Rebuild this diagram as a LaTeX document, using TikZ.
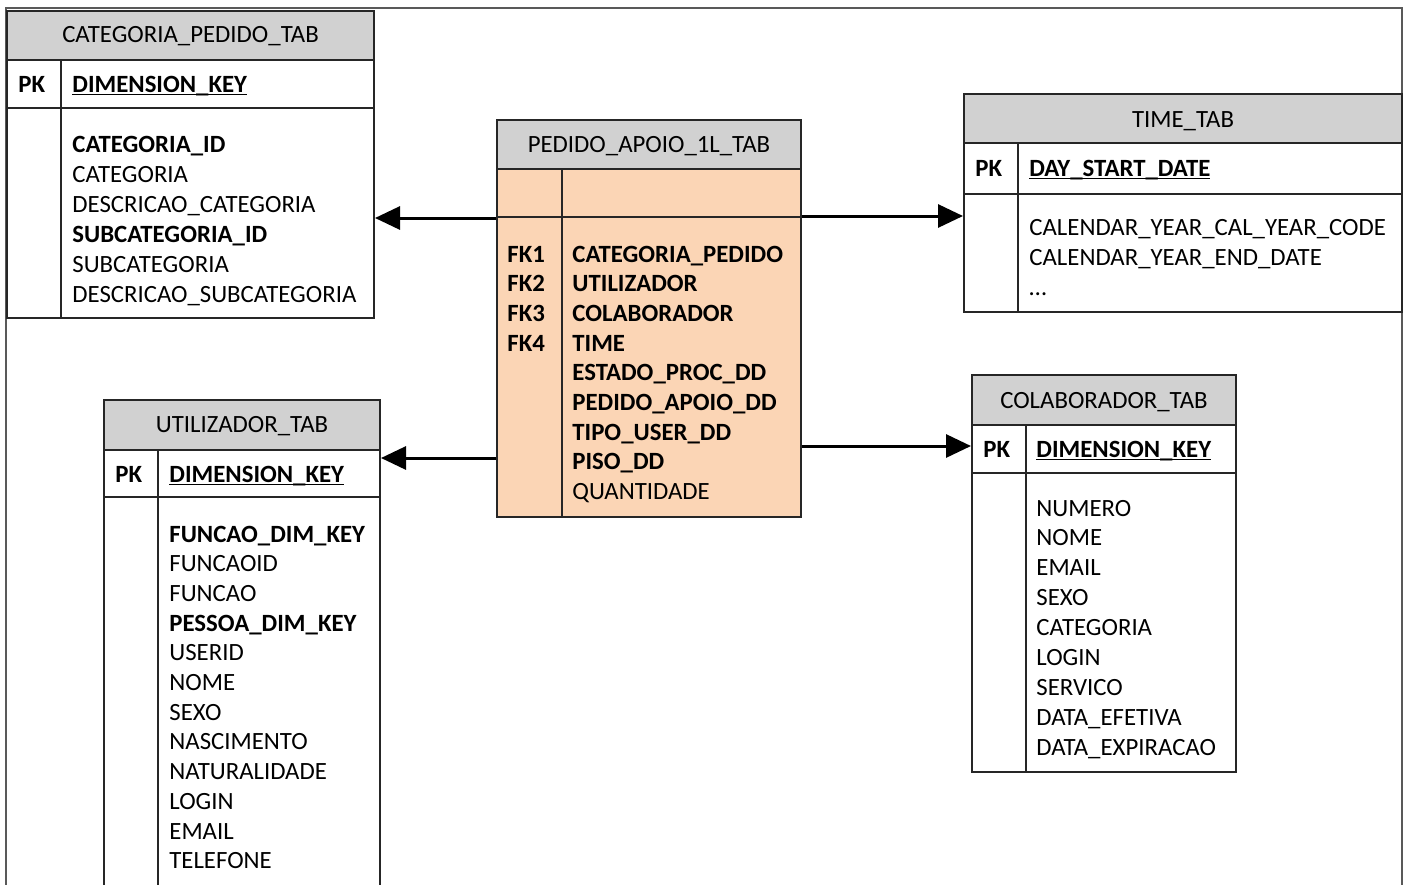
\documentclass[tikz,border=0pt]{standalone}
\usepackage{fontspec}
\setmainfont{Carlito}
\usetikzlibrary{arrows.meta,fit}

\definecolor{factfill}{HTML}{FBD5B5}
\newcommand{\keyul}[1]{\underline{\smash{#1}}}

\begin{document}
\begin{tikzpicture}[x=0.5pt,y=-0.5pt,
  tab/.style={draw=black!85, line width=1pt, inner sep=0pt},
  tabline/.style={draw=black!85, line width=1pt},
  headfill/.style={fill=black!18},
  txt/.style={anchor=base west, inner sep=0pt, font=\fontsize{12.4}{14}\selectfont},
  ttl/.style={anchor=base, inner sep=0pt, font=\fontsize{12.4}{14}\selectfont},
  fk/.style={line width=1.5pt, -{Triangle[length=12.5pt,width=11.5pt]}},
  frame/.style={draw=black!65, line width=0.6pt}]

\useasboundingbox (0,0) rectangle (1407,884);
\clip (0,0) rectangle (1407,884);

% outer frame
\draw[frame] (6,8) rectangle (1402,900);

% dimension: categoria
\fill[headfill] (7,11) rectangle (374,60);
\node[tab, fit={(7,11) (374,318)}] (cat) {};
\draw[tabline] (7,60) -- (374,60) (7,108) -- (374,108) (61,60) -- (61,318);
\node[ttl] (cat-name) at (190.5,42) {CATEGORIA\_PEDIDO\_TAB};
\node[txt] (cat-pk) at (18,92) {\textbf{PK}};
\node[txt] (cat-key) at (72,92) {\textbf{\keyul{DIMENSION\_KEY}}};
\foreach \f [count=\i from 0] in {\textbf{CATEGORIA\_ID}, CATEGORIA,
    DESCRICAO\_CATEGORIA, \textbf{SUBCATEGORIA\_ID}, SUBCATEGORIA,
    DESCRICAO\_SUBCATEGORIA}
  \node[txt] (cat-f\i) at (72,152+30*\i) {\f};

% fact table
\fill[factfill] (497,169) rectangle (801,517);
\fill[headfill] (497,120) rectangle (801,169);
\node[tab, fit={(497,120) (801,517)}] (ped) {};
\draw[tabline] (497,169) -- (801,169) (497,217) -- (801,217) (562,169) -- (562,517);
\node[ttl] (ped-name) at (649,152) {PEDIDO\_APOIO\_1L\_TAB};
\foreach \k [count=\i from 0] in {FK1, FK2, FK3, FK4}
  \node[txt] (ped-k\i) at (507,262+29.7*\i) {\textbf{\k}};
\foreach \f [count=\i from 0] in {\textbf{CATEGORIA\_PEDIDO}, \textbf{UTILIZADOR},
    \textbf{COLABORADOR}, \textbf{TIME}, \textbf{ESTADO\_PROC\_DD},
    \textbf{PEDIDO\_APOIO\_DD}, \textbf{TIPO\_USER\_DD}, \textbf{PISO\_DD}, QUANTIDADE}
  \node[txt] (ped-f\i) at (572,262+29.7*\i) {\f};

% dimension: time
\fill[headfill] (964,94) rectangle (1402,143);
\node[tab, fit={(964,94) (1402,312)}] (time) {};
\draw[tabline] (964,143) -- (1402,143) (964,194) -- (1402,194) (1018,143) -- (1018,312);
\node[ttl] (time-name) at (1183,127) {TIME\_TAB};
\node[txt] (time-pk) at (975,176) {\textbf{PK}};
\node[txt] (time-key) at (1029,176) {\textbf{\keyul{DAY\_START\_DATE}}};
\foreach \f [count=\i from 0] in {CALENDAR\_YEAR\_CAL\_YEAR\_CODE,
    CALENDAR\_YEAR\_END\_DATE, \ldots}
  \node[txt] (time-f\i) at (1029,235+30*\i) {\f};

% dimension: colaborador
\fill[headfill] (972,375) rectangle (1236,425);
\node[tab, fit={(972,375) (1236,772)}] (colab) {};
\draw[tabline] (972,425) -- (1236,425) (972,473) -- (1236,473) (1026,425) -- (1026,772);
\node[ttl] (colab-name) at (1104,408) {COLABORADOR\_TAB};
\node[txt] (colab-pk) at (983,457) {\textbf{PK}};
\node[txt] (colab-key) at (1036,457) {\textbf{\keyul{DIMENSION\_KEY}}};
\foreach \f [count=\i from 0] in {NUMERO, NOME, EMAIL, SEXO, CATEGORIA, LOGIN,
    SERVICO, DATA\_EFETIVA, DATA\_EXPIRACAO}
  \node[txt] (colab-f\i) at (1036,516+29.9*\i) {\f};

% dimension: utilizador
\fill[headfill] (104,400) rectangle (380,450);
\node[tab, fit={(104,400) (380,900)}] (user) {};
\draw[tabline] (104,450) -- (380,450) (104,497) -- (380,497) (158,450) -- (158,900);
\node[ttl] (user-name) at (242,432) {UTILIZADOR\_TAB};
\node[txt] (user-pk) at (115,482) {\textbf{PK}};
\node[txt] (user-key) at (169,482) {\textbf{\keyul{DIMENSION\_KEY}}};
\foreach \f [count=\i from 0] in {\textbf{FUNCAO\_DIM\_KEY}, FUNCAOID, FUNCAO,
    \textbf{PESSOA\_DIM\_KEY}, USERID, NOME, SEXO, NASCIMENTO, NATURALIDADE,
    LOGIN, EMAIL, TELEFONE}
  \node[txt] (user-f\i) at (169,542+29.7*\i) {\f};

% foreign keys
\draw[fk] (ped.west |- 0,218) -- (cat.east |- 0,218);
\draw[fk] (ped.east |- 0,216) -- (time.west |- 0,216);
\draw[fk] (ped.west |- 0,458) -- (user.east |- 0,458);
\draw[fk] (ped.east |- 0,446) -- (colab.west |- 0,446);
\end{tikzpicture}
\end{document}
